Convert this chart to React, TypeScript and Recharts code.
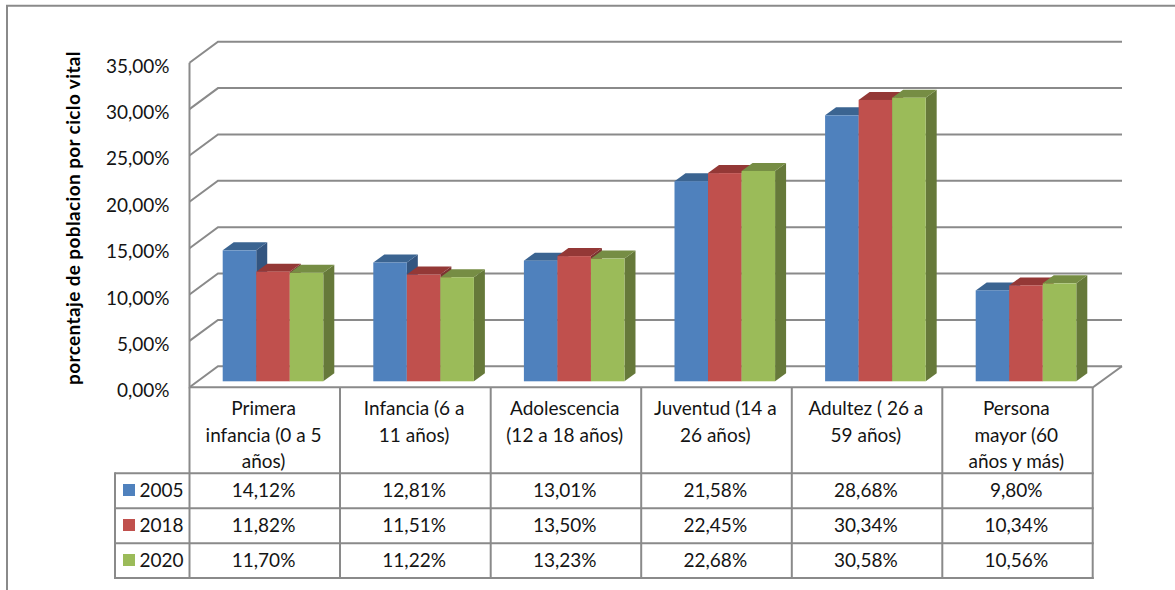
import { Bar, BarChart, CartesianGrid, XAxis, YAxis } from "recharts";

const categories = [
  "Primera infancia (0 a 5 años)",
  "Infancia (6 a 11 años)",
  "Adolescencia (12 a 18 años)",
  "Juventud (14 a 26 años)",
  "Adultez ( 26 a 59 años)",
  "Persona mayor (60 años y más)",
];
const categoryLines = [
  ["Primera", "infancia (0 a 5", "años)"],
  ["Infancia (6 a", "11 años)"],
  ["Adolescencia", "(12 a 18 años)"],
  ["Juventud (14 a", "26 años)"],
  ["Adultez ( 26 a", "59 años)"],
  ["Persona", "mayor (60", "años y más)"],
];
const values2005 = [14.12, 12.81, 13.01, 21.58, 28.68, 9.8];
const values2018 = [11.82, 11.51, 13.5, 22.45, 30.34, 10.34];
const values2020 = [11.7, 11.22, 13.23, 22.68, 30.58, 10.56];
const yTicks = [0, 5, 10, 15, 20, 25, 30, 35];

const series = [
  { name: "2005", values: values2005, face: "#4f81bd", top: "#3b6491", side: "#335580" },
  { name: "2018", values: values2018, face: "#c0504d", top: "#943836", side: "#7c3331" },
  { name: "2020", values: values2020, face: "#9bbb59", top: "#768d44", side: "#66793a" },
];

const chartData = categories.map((c, i) => ({
  category: c,
  v2005: values2005[i],
  v2018: values2018[i],
  v2020: values2020[i],
}));

const FONT = "Lato, sans-serif";
const LINE = "#8a8a8a";
const LINE_W = 2;
const TEXT = "#141414";
const TEXT_SIZE = 19;

// 3d wall geometry
const WALL_FRONT_X = 189.5;
const WALL_BACK_X = 218;
const WALL_RIGHT_X = 1122;
const TABLE_RIGHT_X = 1093;
const FRONT_DY = 6;
const BACK_DY = -15;
const PLOT_H = 324.6;

// table geometry
const colX = [189.5, 340, 490.7, 641.2, 791.8, 942.3, 1092.7];
const rowY = [473.3, 508.3, 543.3, 578];
const fmt = (v: number) => v.toFixed(2).replace(".", ",") + "%";

function Bar3D(props: any) {
  const { x, y, width, height, face, top, side } = props;
  const dx = 11;
  const dy = 8;
  return (
    <g>
      <polygon
        points={`${x + width},${y} ${x + width + dx},${y - dy} ${x + width + dx},${y + height - dy} ${x + width},${y + height}`}
        fill={side}
      />
      <polygon
        points={`${x},${y} ${x + dx},${y - dy} ${x + width + dx},${y - dy} ${x + width},${y}`}
        fill={top}
      />
      <rect x={x} y={y} width={width} height={height} fill={face} />
    </g>
  );
}

function GridLine3D(props: any) {
  const y = props.y1;
  const isFloor = Math.abs(y - (56.7 + PLOT_H)) < 1;
  return (
    <g fill="none" stroke={LINE} strokeWidth={LINE_W}>
      <path d={`M${WALL_FRONT_X},${y + FRONT_DY}L${WALL_BACK_X},${y + BACK_DY}L${WALL_RIGHT_X},${y + BACK_DY}`} />
      {isFloor && (
        <path
          d={`M${WALL_FRONT_X},${y + FRONT_DY - PLOT_H}L${WALL_FRONT_X},${y + FRONT_DY}L${TABLE_RIGHT_X},${y + FRONT_DY}L${WALL_RIGHT_X},${y + BACK_DY}`}
        />
      )}
    </g>
  );
}

function YTick(props: any) {
  const { y, payload } = props;
  return (
    <text x={169.5} y={y + 16} textAnchor="end" fontFamily={FONT} fontSize={TEXT_SIZE} fill={TEXT}>
      {fmt(payload.value)}
    </text>
  );
}

function DataTable() {
  const cells = [values2005, values2018, values2020];
  const common = { fontFamily: FONT, fontSize: TEXT_SIZE, fill: TEXT };
  return (
    <svg width={1175} height={590} style={{ position: "absolute", left: 0, top: 0, pointerEvents: "none" }}>
      <path d="M7,590L7,5.7L1175,5.7" fill="none" stroke={LINE} strokeWidth={LINE_W} />
      <g stroke={LINE} strokeWidth={LINE_W}>
        {colX.map((x, i) => (
          <line key={i} x1={x} x2={x} y1={387.5} y2={579} />
        ))}
        <line x1={115} x2={115} y1={rowY[0] - 1} y2={rowY[3] + 1} />
        {rowY.map((y, i) => (
          <line key={i} x1={115} x2={1093.7} y1={y} y2={y} />
        ))}
      </g>
      {categoryLines.map((lines, i) =>
        lines.map((t, j) => (
          <text key={t} x={(colX[i] + colX[i + 1]) / 2 - 1.2} y={415 + j * 26.7} textAnchor="middle" {...common}>
            {t}
          </text>
        ))
      )}
      {series.map((s, r) => (
        <g key={s.name}>
          <rect x={123} y={rowY[r] + 10.7} width={12} height={12} fill={s.face} />
          <text x={139.5} y={rowY[r] + 24} {...common}>
            {s.name}
          </text>
          {cells[r].map((v, i) => (
            <text key={i} x={(colX[i] + colX[i + 1]) / 2 - 1.2} y={rowY[r] + 24} textAnchor="middle" {...common}>
              {fmt(v)}
            </text>
          ))}
        </g>
      ))}
    </svg>
  );
}

export default function App() {
  return (
    <div style={{ position: "absolute", left: 0, top: 0, width: 1175, height: 590, background: "#fff", overflow: "hidden" }}>
      <BarChart
        width={1175}
        height={590}
        data={chartData}
        margin={{ top: 56.7, right: 73.7, bottom: 208.7, left: 97.7 }}
        barGap={0}
        barSize={33.53}
      >
        <CartesianGrid vertical={false} horizontal={(p: any) => <GridLine3D key={p.key} {...p} />} />
        <XAxis dataKey="category" hide />
        <YAxis
          width={100}
          domain={[0, 35]}
          ticks={yTicks}
          interval={0}
          axisLine={false}
          tickLine={false}
          tick={<YTick />}
          label={{
            value: "porcentaje de poblacion por ciclo vital",
            angle: -90,
            position: "insideLeft",
            offset: -24,
            dy: -1,
            style: { fontFamily: FONT, fontSize: 19, fontWeight: 700, letterSpacing: 0.37, fill: "#000", textAnchor: "middle" },
          }}
        />
        {series.map((s) => (
          <Bar
            key={s.name}
            dataKey={"v" + s.name}
            isAnimationActive={false}
            shape={(p: any) => <Bar3D {...p} face={s.face} top={s.top} side={s.side} />}
          />
        ))}
      </BarChart>
      <DataTable />
    </div>
  );
}
